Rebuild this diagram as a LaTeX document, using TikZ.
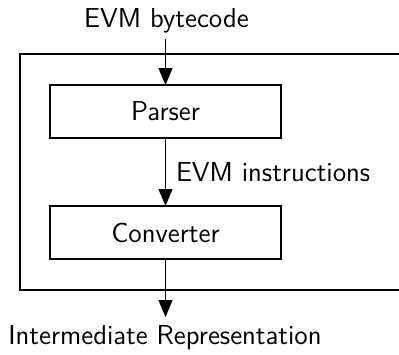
\documentclass[tikz,border=0pt]{standalone}
\usetikzlibrary{arrows.meta}
\begin{document}
\begin{tikzpicture}[x=0.5pt,y=-0.5pt,
  font=\sffamily\fontsize{13.7}{16.4}\selectfont,
  every node/.style={inner sep=0pt, outer sep=0pt},
  stage/.style={draw, line width=0.6pt, minimum width=115.5pt, minimum height=26.5pt},
  flow/.style={line width=0.6pt, -{Triangle[length=8.5pt,width=7pt]}},
  frame/.style={draw, line width=0.6pt}]
  \useasboundingbox (0,0) rectangle (399,354);
  % enclosing frame (open to the right)
  \draw[frame] (20,54) rectangle (404,290);
  % stages
  \node[stage] (parser) at (165.5,111.5) {Parser};
  \node[stage] (conv) at (165.5,232.5) {Converter};
  % input and output labels
  \node[anchor=base] (in) at (166.5,27) {EVM bytecode};
  \node[anchor=base] (out) at (165,344) {Intermediate Representation};
  \coordinate (inend) at (165.5,39);
  \coordinate (outend) at (165.5,317);
  % connectors
  \draw[flow] (inend) -- (parser.north);
  \draw[flow] (parser.south) -- node[anchor=base west, xshift=5.25pt, yshift=-4.5pt] (lbl) {EVM instructions} (conv.north);
  \draw[flow] (conv.south) -- (outend);
\end{tikzpicture}
\end{document}
